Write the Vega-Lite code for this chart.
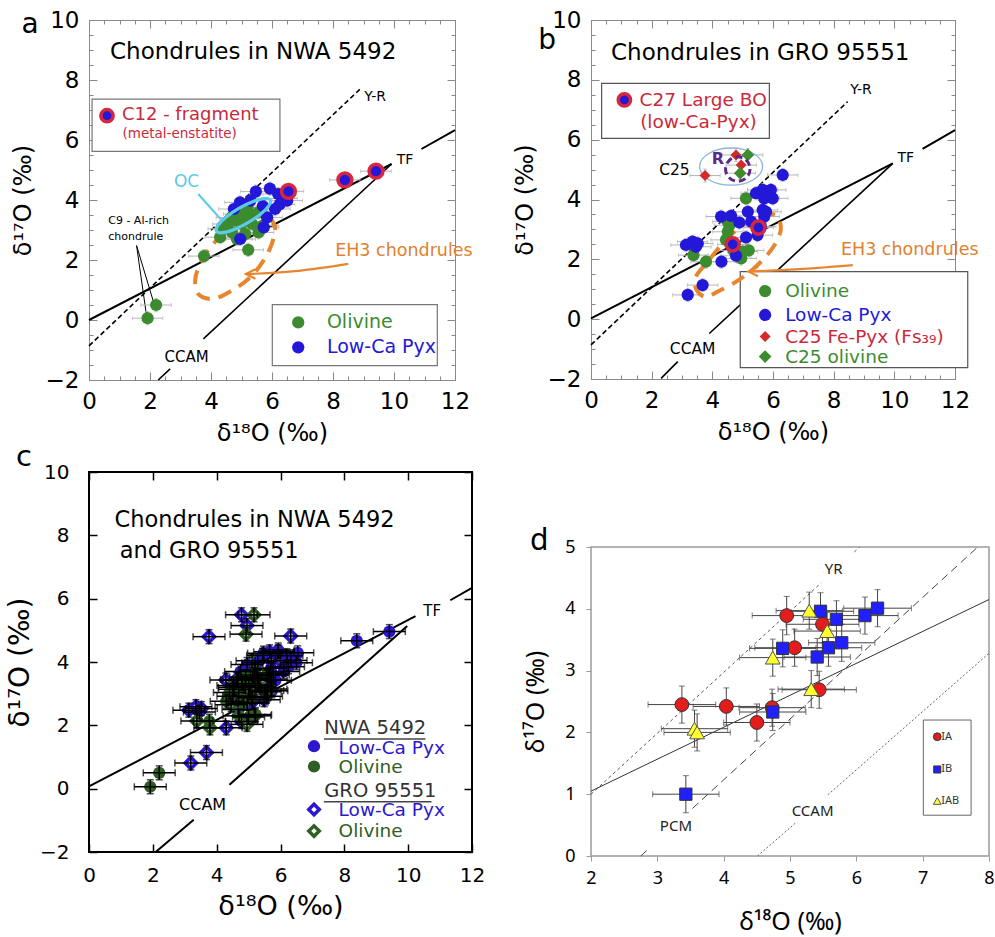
{
"$schema": "https://vega.github.io/schema/vega-lite/v6.json",
"padding": {"left": 5, "top": 8, "right": 0, "bottom": 0},
"background": "white",
"config": {"font": "DejaVu Sans", "axis": {"grid": false, "labelFlush": false, "labelOverlap": false, "titleFontWeight": "normal", "labelColor": "#000", "titleColor": "#000"}, "view": {"stroke": null}},
"datasets": {
"nwa": [
{"d18":1.92,"d17":0.06,"ph":"ol","e18":0.5,"e17":0.22},{"d18":2.20,"d17":0.50,"ph":"ol","e18":0.5,"e17":0.22},{"d18":3.77,"d17":2.13,"ph":"ol","e18":0.5,"e17":0.22},{"d18":5.22,"d17":2.34,"ph":"ol","e18":0.5,"e17":0.22},{"d18":4.30,"d17":2.76,"ph":"ol","e18":0.5,"e17":0.22},{"d18":4.40,"d17":3.04,"ph":"ol","e18":0.5,"e17":0.22},{"d18":4.67,"d17":3.42,"ph":"ol","e18":0.5,"e17":0.22},{"d18":4.80,"d17":3.31,"ph":"ol","e18":0.5,"e17":0.22},{"d18":5.13,"d17":3.48,"ph":"ol","e18":0.5,"e17":0.22},{"d18":4.69,"d17":2.92,"ph":"ol","e18":0.5,"e17":0.22},{"d18":5.12,"d17":2.87,"ph":"ol","e18":0.5,"e17":0.22},{"d18":5.56,"d17":2.92,"ph":"ol","e18":0.5,"e17":0.22},{"d18":5.29,"d17":3.53,"ph":"ol","e18":0.5,"e17":0.22},{"d18":5.56,"d17":3.59,"ph":"ol","e18":0.5,"e17":0.22},{"d18":4.91,"d17":3.53,"ph":"ol","e18":0.5,"e17":0.22},{"d18":5.00,"d17":3.20,"ph":"ol","e18":0.5,"e17":0.22},{"d18":5.35,"d17":3.20,"ph":"ol","e18":0.5,"e17":0.22},{"d18":4.85,"d17":2.70,"ph":"ol","e18":0.5,"e17":0.22},{"d18":5.70,"d17":3.15,"ph":"ol","e18":0.5,"e17":0.22},{"d18":4.55,"d17":3.20,"ph":"ol","e18":0.5,"e17":0.22},{"d18":5.20,"d17":3.75,"ph":"ol","e18":0.5,"e17":0.22},
{"d18":4.95,"d17":3.92,"ph":"px","e18":0.5,"e17":0.22},{"d18":5.47,"d17":4.28,"ph":"px","e18":0.5,"e17":0.22},{"d18":5.93,"d17":4.38,"ph":"px","e18":0.5,"e17":0.22},{"d18":6.33,"d17":4.05,"ph":"px","e18":0.5,"e17":0.22},{"d18":6.50,"d17":3.98,"ph":"px","e18":0.5,"e17":0.22},{"d18":6.20,"d17":4.20,"ph":"px","e18":0.5,"e17":0.22},{"d18":5.29,"d17":3.98,"ph":"px","e18":0.5,"e17":0.22},{"d18":5.84,"d17":3.42,"ph":"px","e18":0.5,"e17":0.22},{"d18":5.73,"d17":3.09,"ph":"px","e18":0.5,"e17":0.22},{"d18":4.96,"d17":2.70,"ph":"px","e18":0.5,"e17":0.22},{"d18":6.10,"d17":3.70,"ph":"px","e18":0.5,"e17":0.22},{"d18":6.25,"d17":3.85,"ph":"px","e18":0.5,"e17":0.22},{"d18":5.70,"d17":3.80,"ph":"px","e18":0.5,"e17":0.22},{"d18":4.75,"d17":3.70,"ph":"px","e18":0.5,"e17":0.22},
{"d18":6.54,"d17":4.29,"ph":"c12","e18":0.5,"e17":0.22},{"d18":8.39,"d17":4.67,"ph":"c12","e18":0.5,"e17":0.22},{"d18":9.41,"d17":4.96,"ph":"c12","e18":0.5,"e17":0.22}
],
"gro": [
{"d18":3.19,"d17":0.81,"ph":"px","e18":0.5,"e17":0.22},{"d18":3.68,"d17":1.14,"ph":"px","e18":0.5,"e17":0.22},{"d18":3.35,"d17":2.59,"ph":"px","e18":0.5,"e17":0.22},{"d18":3.46,"d17":2.42,"ph":"px","e18":0.5,"e17":0.22},{"d18":3.13,"d17":2.48,"ph":"px","e18":0.5,"e17":0.22},{"d18":3.52,"d17":2.53,"ph":"px","e18":0.5,"e17":0.22},{"d18":4.30,"d17":1.92,"ph":"px","e18":0.5,"e17":0.22},{"d18":4.78,"d17":2.12,"ph":"px","e18":0.5,"e17":0.22},{"d18":5.11,"d17":2.73,"ph":"px","e18":0.5,"e17":0.22},{"d18":4.29,"d17":3.43,"ph":"px","e18":0.5,"e17":0.22},{"d18":4.62,"d17":3.45,"ph":"px","e18":0.5,"e17":0.22},{"d18":4.89,"d17":3.23,"ph":"px","e18":0.5,"e17":0.22},{"d18":5.28,"d17":3.26,"ph":"px","e18":0.5,"e17":0.22},{"d18":5.17,"d17":3.59,"ph":"px","e18":0.5,"e17":0.22},{"d18":5.66,"d17":3.65,"ph":"px","e18":0.5,"e17":0.22},{"d18":5.71,"d17":3.43,"ph":"px","e18":0.5,"e17":0.22},{"d18":5.77,"d17":3.59,"ph":"px","e18":0.5,"e17":0.22},{"d18":5.44,"d17":4.21,"ph":"px","e18":0.5,"e17":0.22},{"d18":5.66,"d17":4.32,"ph":"px","e18":0.5,"e17":0.22},{"d18":5.93,"d17":4.32,"ph":"px","e18":0.5,"e17":0.22},{"d18":5.71,"d17":4.04,"ph":"px","e18":0.5,"e17":0.22},{"d18":5.99,"d17":4.04,"ph":"px","e18":0.5,"e17":0.22},{"d18":6.32,"d17":4.82,"ph":"px","e18":0.5,"e17":0.22},{"d18":5.49,"d17":2.81,"ph":"px","e18":0.5,"e17":0.22},{"d18":5.60,"d17":3.10,"ph":"px","e18":0.5,"e17":0.22},
{"d18":3.79,"d17":1.92,"ph":"ol","e18":0.5,"e17":0.22},{"d18":3.38,"d17":2.14,"ph":"ol","e18":0.5,"e17":0.22},{"d18":4.51,"d17":3.26,"ph":"ol","e18":0.5,"e17":0.22},{"d18":4.51,"d17":2.92,"ph":"ol","e18":0.5,"e17":0.22},{"d18":4.45,"d17":2.65,"ph":"ol","e18":0.5,"e17":0.22},{"d18":5.00,"d17":2.26,"ph":"ol","e18":0.5,"e17":0.22},{"d18":4.95,"d17":2.03,"ph":"ol","e18":0.5,"e17":0.22},{"d18":5.11,"d17":4.04,"ph":"ol","e18":0.5,"e17":0.22},{"d18":4.56,"d17":3.14,"ph":"ol","e18":0.5,"e17":0.22},{"d18":4.70,"d17":2.30,"ph":"ol","e18":0.5,"e17":0.22},{"d18":5.20,"d17":2.30,"ph":"ol","e18":0.5,"e17":0.22},
{"d18":4.67,"d17":2.50,"ph":"c27","e18":0.5,"e17":0.22},{"d18":5.52,"d17":3.06,"ph":"c27","e18":0.5,"e17":0.22},
{"d18":3.76,"d17":4.80,"ph":"fepx","e18":0.5,"e17":0.22},{"d18":4.78,"d17":5.49,"ph":"fepx","e18":0.5,"e17":0.22},{"d18":4.95,"d17":5.15,"ph":"fepx","e18":0.5,"e17":0.22},
{"d18":5.17,"d17":5.49,"ph":"c25ol","e18":0.5,"e17":0.22},{"d18":4.92,"d17":4.88,"ph":"c25ol","e18":0.5,"e17":0.22}
],
"ib": [
{"d18":3.37,"d17":2.45,"g":"IA","e18":0.51,"e17":0.3},{"d18":4.04,"d17":2.42,"g":"IA","e18":0.5,"e17":0.3},{"d18":4.50,"d17":2.16,"g":"IA","e18":0.5,"e17":0.3},{"d18":4.73,"d17":2.40,"g":"IA","e18":0.5,"e17":0.3},{"d18":4.95,"d17":3.89,"g":"IA","e18":0.52,"e17":0.31},{"d18":5.07,"d17":3.37,"g":"IA","e18":0.6,"e17":0.3},{"d18":5.49,"d17":3.75,"g":"IA","e18":0.55,"e17":0.3},{"d18":5.44,"d17":2.69,"g":"IA","e18":0.56,"e17":0.3},
{"d18":3.43,"d17":1.00,"g":"IB","e18":0.5,"e17":0.3},{"d18":4.74,"d17":2.33,"g":"IB","e18":0.5,"e17":0.3},{"d18":4.89,"d17":3.36,"g":"IB","e18":0.5,"e17":0.3},{"d18":5.41,"d17":3.22,"g":"IB","e18":0.5,"e17":0.3},{"d18":5.46,"d17":3.96,"g":"IB","e18":0.5,"e17":0.3},{"d18":5.70,"d17":3.83,"g":"IB","e18":0.5,"e17":0.3},{"d18":5.58,"d17":3.37,"g":"IB","e18":0.5,"e17":0.3},{"d18":5.78,"d17":3.45,"g":"IB","e18":0.5,"e17":0.3},{"d18":6.13,"d17":3.89,"g":"IB","e18":0.5,"e17":0.3},{"d18":6.32,"d17":4.01,"g":"IB","e18":0.51,"e17":0.3},
{"d18":3.56,"d17":2.06,"g":"IAB","e18":0.5,"e17":0.3},{"d18":3.60,"d17":2.00,"g":"IAB","e18":0.5,"e17":0.3},{"d18":4.74,"d17":3.21,"g":"IAB","e18":0.5,"e17":0.3},{"d18":5.29,"d17":3.97,"g":"IAB","e18":0.5,"e17":0.3},{"d18":5.56,"d17":3.64,"g":"IAB","e18":0.5,"e17":0.3},{"d18":5.32,"d17":2.70,"g":"IAB","e18":0.5,"e17":0.3}
]
},
"spacing": 26,
"hconcat": [
{"spacing": -4, "vconcat": [
{"width": 366, "height": 360, "view": {"stroke": "#8a8a8a", "strokeWidth": 1},
 "resolve": {"axis": {"x": "independent", "y": "independent"}},
 "layer": [
  {"data": {"values": [{"x": 0, "y": 0}]}, "mark": {"type": "point", "opacity": 0},
   "encoding": {"x": {"field": "x", "type": "quantitative", "scale": {"domain": [0, 12], "nice": false, "zero": false}, "axis": {"orient": "bottom", "values": [0, 2, 4, 6, 8, 10, 12], "tickSize": -8, "tickColor": "#888", "domain": false, "labelFontSize": 23, "labelPadding": 18, "title": "δ¹⁸O (‰)", "titleFontSize": 24, "titlePadding": 8}},
    "y": {"field": "y", "type": "quantitative", "scale": {"domain": [-2, 10], "nice": false, "zero": false}, "axis": {"orient": "left", "values": [-2, 0, 2, 4, 6, 8, 10], "tickSize": -8, "tickColor": "#888", "domain": false, "labelFontSize": 23, "labelPadding": 18, "title": "δ¹⁷O (‰)", "titleFontSize": 24, "titlePadding": 10}}}},
  {"data": {"values": [{"x": 0, "y": 0}]}, "mark": {"type": "point", "opacity": 0},
   "encoding": {"x": {"field": "x", "type": "quantitative", "scale": {"domain": [0, 12], "nice": false, "zero": false}, "axis": {"orient": "bottom", "values": [0.5,1,1.5,2.5,3,3.5,4.5,5,5.5,6.5,7,7.5,8.5,9,9.5,10.5,11,11.5], "tickSize": -4, "tickColor": "#888", "domain": false, "labels": false, "title": null}},
    "y": {"field": "y", "type": "quantitative", "scale": {"domain": [-2, 10], "nice": false, "zero": false}, "axis": {"orient": "left", "values": [-1.5,-1,-0.5,0.5,1,1.5,2.5,3,3.5,4.5,5,5.5,6.5,7,7.5,8.5,9,9.5], "tickSize": -4, "tickColor": "#888", "domain": false, "labels": false, "title": null}}}},
  {"data": {"values": [{"x": 0, "y": 0}]}, "mark": {"type": "point", "opacity": 0},
   "encoding": {"x": {"field": "x", "type": "quantitative", "scale": {"domain": [0, 12], "nice": false, "zero": false}, "axis": {"orient": "top", "values": [0, 2, 4, 6, 8, 10, 12], "tickSize": -8, "tickColor": "#888", "domain": false, "labels": false, "title": null}},
    "y": {"field": "y", "type": "quantitative", "scale": {"domain": [-2, 10], "nice": false, "zero": false}, "axis": {"orient": "right", "values": [-2, 0, 2, 4, 6, 8, 10], "tickSize": -8, "tickColor": "#888", "domain": false, "labels": false, "title": null}}}},
  {"data": {"values": [{"x": 0, "y": 0}]}, "mark": {"type": "point", "opacity": 0},
   "encoding": {"x": {"field": "x", "type": "quantitative", "scale": {"domain": [0, 12], "nice": false, "zero": false}, "axis": {"orient": "top", "values": [0.5,1,1.5,2.5,3,3.5,4.5,5,5.5,6.5,7,7.5,8.5,9,9.5,10.5,11,11.5], "tickSize": -4, "tickColor": "#888", "domain": false, "labels": false, "title": null}},
    "y": {"field": "y", "type": "quantitative", "scale": {"domain": [-2, 10], "nice": false, "zero": false}, "axis": {"orient": "right", "values": [-1.5,-1,-0.5,0.5,1,1.5,2.5,3,3.5,4.5,5,5.5,6.5,7,7.5,8.5,9,9.5], "tickSize": -4, "tickColor": "#888", "domain": false, "labels": false, "title": null}}}},
  {"data": {"values": [{"x": 0, "y": 0, "x2": 9.92, "y2": 5.2}, {"x": 10.9, "y": 5.7, "x2": 12, "y2": 6.33}]}, "mark": {"type": "rule", "color": "#000", "strokeWidth": 2},
   "encoding": {"x": {"field": "x", "type": "quantitative", "scale": {"domain": [0, 12], "nice": false, "zero": false}, "axis": null}, "y": {"field": "y", "type": "quantitative", "scale": {"domain": [-2, 10], "nice": false, "zero": false}, "axis": null}, "x2": {"field": "x2"}, "y2": {"field": "y2"}}},
  {"data": {"values": [{"x": 2.27, "y": -2.0, "x2": 2.66, "y2": -1.63}, {"x": 3.75, "y": -0.63, "x2": 9.92, "y2": 5.2}]}, "mark": {"type": "rule", "color": "#000", "strokeWidth": 1.6},
   "encoding": {"x": {"field": "x", "type": "quantitative", "scale": {"domain": [0, 12], "nice": false, "zero": false}, "axis": null}, "y": {"field": "y", "type": "quantitative", "scale": {"domain": [-2, 10], "nice": false, "zero": false}, "axis": null}, "x2": {"field": "x2"}, "y2": {"field": "y2"}}},
  {"data": {"values": [{"x": 0, "y": -0.86, "x2": 8.89, "y2": 7.7}]}, "mark": {"type": "rule", "color": "#000", "strokeWidth": 1.6, "strokeDash": [5, 3]},
   "encoding": {"x": {"field": "x", "type": "quantitative", "scale": {"domain": [0, 12], "nice": false, "zero": false}, "axis": null}, "y": {"field": "y", "type": "quantitative", "scale": {"domain": [-2, 10], "nice": false, "zero": false}, "axis": null}, "x2": {"field": "x2"}, "y2": {"field": "y2"}}},
  {"data": {"values": [{"x": 1.56, "y": 2.48, "x2": 1.89, "y2": 0.12}, {"x": 1.56, "y": 2.48, "x2": 2.13, "y2": 0.55}]}, "mark": {"type": "rule", "color": "#000", "strokeWidth": 1},
   "encoding": {"x": {"field": "x", "type": "quantitative", "scale": {"domain": [0, 12], "nice": false, "zero": false}, "axis": null}, "y": {"field": "y", "type": "quantitative", "scale": {"domain": [-2, 10], "nice": false, "zero": false}, "axis": null}, "x2": {"field": "x2"}, "y2": {"field": "y2"}}},
  {"data": {"values": [{"x": 3.58, "y": 4.2, "x2": 4.46, "y2": 3.2}]}, "mark": {"type": "rule", "color": "#5ccbe9", "strokeWidth": 2},
   "encoding": {"x": {"field": "x", "type": "quantitative", "scale": {"domain": [0, 12], "nice": false, "zero": false}, "axis": null}, "y": {"field": "y", "type": "quantitative", "scale": {"domain": [-2, 10], "nice": false, "zero": false}, "axis": null}, "x2": {"field": "x2"}, "y2": {"field": "y2"}}},
  {"data": {"values": [{"x": 0.1, "y": 5.62, "x2": 6.26, "y2": 7.36}, {"x": 6.01, "y": -1.52, "x2": 11.42, "y2": 0.51}]}, "mark": {"type": "rect", "fill": "white", "stroke": "#777", "strokeWidth": 1.2},
   "encoding": {"x": {"field": "x", "type": "quantitative", "scale": {"domain": [0, 12], "nice": false, "zero": false}, "axis": null}, "y": {"field": "y", "type": "quantitative", "scale": {"domain": [-2, 10], "nice": false, "zero": false}, "axis": null}, "x2": {"field": "x2"}, "y2": {"field": "y2"}}},
  {"data": {"name": "nwa"}, "mark": {"type": "errorbar", "color": "#b5b5b5", "thickness": 1, "ticks": true, "size": 4},
   "encoding": {"x": {"field": "d18", "type": "quantitative", "scale": {"domain": [0, 12], "nice": false, "zero": false}, "axis": null}, "xError": {"field": "e18"}, "y": {"field": "d17", "type": "quantitative", "scale": {"domain": [-2, 10], "nice": false, "zero": false}, "axis": null}}},
  {"data": {"name": "nwa"}, "mark": {"type": "errorbar", "color": "#b5b5b5", "thickness": 1, "ticks": true, "size": 4},
   "encoding": {"x": {"field": "d18", "type": "quantitative", "scale": {"domain": [0, 12], "nice": false, "zero": false}, "axis": null}, "y": {"field": "d17", "type": "quantitative", "scale": {"domain": [-2, 10], "nice": false, "zero": false}, "axis": null}, "yError": {"field": "e17"}}},
  {"data": {"values": [{"i":0,"x":5.93,"y":3.42},{"i":1,"x":6.10,"y":3.09},{"i":2,"x":5.99,"y":2.53},{"i":3,"x":5.72,"y":1.98},{"i":4,"x":5.28,"y":1.42},{"i":5,"x":4.68,"y":0.98},{"i":6,"x":4.02,"y":0.70},{"i":7,"x":3.58,"y":0.87},{"i":8,"x":3.48,"y":1.31},{"i":9,"x":3.64,"y":1.87},{"i":10,"x":4.02,"y":2.48},{"i":11,"x":4.35,"y":2.81}]},
   "mark": {"type": "line", "color": "#e8852f", "strokeWidth": 4, "strokeDash": [14, 9], "interpolate": "catmull-rom"},
   "encoding": {"x": {"field": "x", "type": "quantitative", "scale": {"domain": [0, 12], "nice": false, "zero": false}, "axis": null}, "y": {"field": "y", "type": "quantitative", "scale": {"domain": [-2, 10], "nice": false, "zero": false}, "axis": null}, "order": {"field": "i"}}},
  {"data": {"values": [{"i":0,"x":8.5,"y":1.87},{"i":1,"x":6.86,"y":1.64},{"i":2,"x":5.17,"y":1.53}]},
   "mark": {"type": "line", "color": "#e8852f", "strokeWidth": 2.2, "interpolate": "monotone"},
   "encoding": {"x": {"field": "x", "type": "quantitative", "scale": {"domain": [0, 12], "nice": false, "zero": false}, "axis": null}, "y": {"field": "y", "type": "quantitative", "scale": {"domain": [-2, 10], "nice": false, "zero": false}, "axis": null}, "order": {"field": "i"}}},
  {"data": {"values": [{"x": 5.3, "y": 1.53}]}, "mark": {"type": "point", "shape": "M 1 -1 L -1 0 L 1 1", "filled": false, "stroke": "#e8852f", "strokeWidth": 2.2, "size": 90, "opacity": 1},
   "encoding": {"x": {"field": "x", "type": "quantitative", "scale": {"domain": [0, 12], "nice": false, "zero": false}, "axis": null}, "y": {"field": "y", "type": "quantitative", "scale": {"domain": [-2, 10], "nice": false, "zero": false}, "axis": null}}},
  {"data": {"name": "nwa"}, "transform": [{"filter": "datum.ph === 'ol'"}], "mark": {"type": "point", "shape": "circle", "filled": true, "color": "#3d8b2f", "size": 150, "opacity": 1},
   "encoding": {"x": {"field": "d18", "type": "quantitative", "scale": {"domain": [0, 12], "nice": false, "zero": false}, "axis": null}, "y": {"field": "d17", "type": "quantitative", "scale": {"domain": [-2, 10], "nice": false, "zero": false}, "axis": null}}},
  {"data": {"name": "nwa"}, "transform": [{"filter": "datum.ph === 'px'"}], "mark": {"type": "point", "shape": "circle", "filled": true, "color": "#2318d8", "size": 150, "opacity": 1},
   "encoding": {"x": {"field": "d18", "type": "quantitative", "scale": {"domain": [0, 12], "nice": false, "zero": false}, "axis": null}, "y": {"field": "d17", "type": "quantitative", "scale": {"domain": [-2, 10], "nice": false, "zero": false}, "axis": null}}},
  {"data": {"values": [{"x": 5.06, "y": 3.48}]}, "mark": {"type": "point", "shape": "M -0.866 0.5 A 1 0.27 -30 1 0 0.866 -0.5 A 1 0.27 -30 1 0 -0.866 0.5 Z", "filled": false, "stroke": "#5ccbe9", "strokeWidth": 3.2, "size": 3844, "opacity": 1},
   "encoding": {"x": {"field": "x", "type": "quantitative", "scale": {"domain": [0, 12], "nice": false, "zero": false}, "axis": null}, "y": {"field": "y", "type": "quantitative", "scale": {"domain": [-2, 10], "nice": false, "zero": false}, "axis": null}}},
  {"data": {"name": "nwa"}, "transform": [{"filter": "datum.ph === 'c12'"}], "mark": {"type": "point", "shape": "circle", "filled": true, "fill": "#2318d8", "stroke": "#d7263d", "strokeWidth": 3.5, "size": 190, "opacity": 1},
   "encoding": {"x": {"field": "d18", "type": "quantitative", "scale": {"domain": [0, 12], "nice": false, "zero": false}, "axis": null}, "y": {"field": "d17", "type": "quantitative", "scale": {"domain": [-2, 10], "nice": false, "zero": false}, "axis": null}}},
  {"data": {"values": [{"x": 0.59, "y": 6.81}]}, "mark": {"type": "point", "shape": "circle", "filled": true, "fill": "#2318d8", "stroke": "#d7263d", "strokeWidth": 3.5, "size": 150, "opacity": 1},
   "encoding": {"x": {"field": "x", "type": "quantitative", "scale": {"domain": [0, 12], "nice": false, "zero": false}, "axis": null}, "y": {"field": "y", "type": "quantitative", "scale": {"domain": [-2, 10], "nice": false, "zero": false}, "axis": null}}},
  {"data": {"values": [{"x": 6.86, "y": -0.08}]}, "mark": {"type": "point", "shape": "circle", "filled": true, "color": "#3d8b2f", "size": 150, "opacity": 1},
   "encoding": {"x": {"field": "x", "type": "quantitative", "scale": {"domain": [0, 12], "nice": false, "zero": false}, "axis": null}, "y": {"field": "y", "type": "quantitative", "scale": {"domain": [-2, 10], "nice": false, "zero": false}, "axis": null}}},
  {"data": {"values": [{"x": 6.86, "y": -0.91}]}, "mark": {"type": "point", "shape": "circle", "filled": true, "color": "#2318d8", "size": 150, "opacity": 1},
   "encoding": {"x": {"field": "x", "type": "quantitative", "scale": {"domain": [0, 12], "nice": false, "zero": false}, "axis": null}, "y": {"field": "y", "type": "quantitative", "scale": {"domain": [-2, 10], "nice": false, "zero": false}, "axis": null}}},
  {"data": {"values": [{"x": 0.69, "y": 8.95, "t": "Chondrules in NWA 5492"}]}, "mark": {"type": "text", "align": "left", "baseline": "middle", "fontSize": 23, "color": "#000"},
   "encoding": {"x": {"field": "x", "type": "quantitative", "scale": {"domain": [0, 12], "nice": false, "zero": false}, "axis": null}, "y": {"field": "y", "type": "quantitative", "scale": {"domain": [-2, 10], "nice": false, "zero": false}, "axis": null}, "text": {"field": "t"}}},
  {"data": {"values": [{"x": 9.38, "y": 7.42, "t": "Y-R"}, {"x": 10.36, "y": 5.34, "t": "TF"}]}, "mark": {"type": "text", "align": "center", "baseline": "middle", "fontSize": 14, "color": "#000"},
   "encoding": {"x": {"field": "x", "type": "quantitative", "scale": {"domain": [0, 12], "nice": false, "zero": false}, "axis": null}, "y": {"field": "y", "type": "quantitative", "scale": {"domain": [-2, 10], "nice": false, "zero": false}, "axis": null}, "text": {"field": "t"}}},
  {"data": {"values": [{"x": 3.2, "y": -1.22, "t": "CCAM"}]}, "mark": {"type": "text", "align": "center", "baseline": "middle", "fontSize": 15, "color": "#000"},
   "encoding": {"x": {"field": "x", "type": "quantitative", "scale": {"domain": [0, 12], "nice": false, "zero": false}, "axis": null}, "y": {"field": "y", "type": "quantitative", "scale": {"domain": [-2, 10], "nice": false, "zero": false}, "axis": null}, "text": {"field": "t"}}},
  {"data": {"values": [{"x": 0.63, "y": 3.31, "t": "C9 - Al-rich"}, {"x": 0.63, "y": 2.76, "t": "chondrule"}]}, "mark": {"type": "text", "align": "left", "baseline": "middle", "fontSize": 11, "color": "#000"},
   "encoding": {"x": {"field": "x", "type": "quantitative", "scale": {"domain": [0, 12], "nice": false, "zero": false}, "axis": null}, "y": {"field": "y", "type": "quantitative", "scale": {"domain": [-2, 10], "nice": false, "zero": false}, "axis": null}, "text": {"field": "t"}}},
  {"data": {"values": [{"x": 3.2, "y": 4.6, "t": "OC"}]}, "mark": {"type": "text", "align": "center", "baseline": "middle", "fontSize": 17, "color": "#5ccbe9"},
   "encoding": {"x": {"field": "x", "type": "quantitative", "scale": {"domain": [0, 12], "nice": false, "zero": false}, "axis": null}, "y": {"field": "y", "type": "quantitative", "scale": {"domain": [-2, 10], "nice": false, "zero": false}, "axis": null}, "text": {"field": "t"}}},
  {"data": {"values": [{"x": 8.07, "y": 2.31, "t": "EH3 chondrules"}]}, "mark": {"type": "text", "align": "left", "baseline": "middle", "fontSize": 17.5, "color": "#e0812f"},
   "encoding": {"x": {"field": "x", "type": "quantitative", "scale": {"domain": [0, 12], "nice": false, "zero": false}, "axis": null}, "y": {"field": "y", "type": "quantitative", "scale": {"domain": [-2, 10], "nice": false, "zero": false}, "axis": null}, "text": {"field": "t"}}},
  {"data": {"values": [{"x": 1.08, "y": 6.82, "t": "C12 - fragment"}]}, "mark": {"type": "text", "align": "left", "baseline": "middle", "fontSize": 18, "color": "#c92a3a"},
   "encoding": {"x": {"field": "x", "type": "quantitative", "scale": {"domain": [0, 12], "nice": false, "zero": false}, "axis": null}, "y": {"field": "y", "type": "quantitative", "scale": {"domain": [-2, 10], "nice": false, "zero": false}, "axis": null}, "text": {"field": "t"}}},
  {"data": {"values": [{"x": 1.1, "y": 6.19, "t": "(metal-enstatite)"}]}, "mark": {"type": "text", "align": "left", "baseline": "middle", "fontSize": 13.5, "color": "#c92a3a"},
   "encoding": {"x": {"field": "x", "type": "quantitative", "scale": {"domain": [0, 12], "nice": false, "zero": false}, "axis": null}, "y": {"field": "y", "type": "quantitative", "scale": {"domain": [-2, 10], "nice": false, "zero": false}, "axis": null}, "text": {"field": "t"}}},
  {"data": {"values": [{"x": 7.8, "y": -0.08, "t": "Olivine"}]}, "mark": {"type": "text", "align": "left", "baseline": "middle", "fontSize": 19, "color": "#3d8b2f"},
   "encoding": {"x": {"field": "x", "type": "quantitative", "scale": {"domain": [0, 12], "nice": false, "zero": false}, "axis": null}, "y": {"field": "y", "type": "quantitative", "scale": {"domain": [-2, 10], "nice": false, "zero": false}, "axis": null}, "text": {"field": "t"}}},
  {"data": {"values": [{"x": 7.8, "y": -0.91, "t": "Low-Ca Pyx"}]}, "mark": {"type": "text", "align": "left", "baseline": "middle", "fontSize": 19, "color": "#2318d8"},
   "encoding": {"x": {"field": "x", "type": "quantitative", "scale": {"domain": [0, 12], "nice": false, "zero": false}, "axis": null}, "y": {"field": "y", "type": "quantitative", "scale": {"domain": [-2, 10], "nice": false, "zero": false}, "axis": null}, "text": {"field": "t"}}},
  {"data": {"values": [{"x": -1.93, "y": 9.82, "t": "a"}]}, "mark": {"type": "text", "align": "center", "baseline": "middle", "fontSize": 28, "color": "#000"},
   "encoding": {"x": {"field": "x", "type": "quantitative", "scale": {"domain": [0, 12], "nice": false, "zero": false}, "axis": null}, "y": {"field": "y", "type": "quantitative", "scale": {"domain": [-2, 10], "nice": false, "zero": false}, "axis": null}, "text": {"field": "t"}}}
 ]},
{"width": 383, "height": 380, "view": {"stroke": "#000", "strokeWidth": 2},
 "resolve": {"axis": {"x": "independent", "y": "independent"}},
 "layer": [
  {"data": {"values": [{"x": 0, "y": 0}]}, "mark": {"type": "point", "opacity": 0},
   "encoding": {"x": {"field": "x", "type": "quantitative", "scale": {"domain": [0, 12], "nice": false, "zero": false}, "axis": {"orient": "bottom", "values": [0, 2, 4, 6, 8, 10, 12], "tickSize": -8, "tickWidth": 1.5, "tickColor": "#000", "domain": false, "labelFontSize": 20, "labelPadding": 21, "title": "δ¹⁸O (‰)", "titleFontSize": 27, "titlePadding": 8}},
    "y": {"field": "y", "type": "quantitative", "scale": {"domain": [-2, 10], "nice": false, "zero": false}, "axis": {"orient": "left", "values": [-2, 0, 2, 4, 6, 8, 10], "tickSize": -8, "tickWidth": 1.5, "tickColor": "#000", "domain": false, "labelFontSize": 20, "labelPadding": 28, "title": "δ¹⁷O (‰)", "titleFontSize": 28, "titlePadding": 5}}}},
  {"data": {"values": [{"x": 0, "y": 0}]}, "mark": {"type": "point", "opacity": 0},
   "encoding": {"x": {"field": "x", "type": "quantitative", "scale": {"domain": [0, 12], "nice": false, "zero": false}, "axis": {"orient": "top", "values": [0, 2, 4, 6, 8, 10, 12], "tickSize": -8, "tickWidth": 1.5, "tickColor": "#000", "domain": false, "labels": false, "title": null}},
    "y": {"field": "y", "type": "quantitative", "scale": {"domain": [-2, 10], "nice": false, "zero": false}, "axis": {"orient": "right", "values": [-2, 0, 2, 4, 6, 8, 10], "tickSize": -8, "tickWidth": 1.5, "tickColor": "#000", "domain": false, "labels": false, "title": null}}}},
  {"data": {"values": [{"x": 0, "y": 0.07, "x2": 10.23, "y2": 5.45}, {"x": 11.32, "y": 5.95, "x2": 12, "y2": 6.34}, {"x": 2.09, "y": -2.0, "x2": 3.28, "y2": -0.98}, {"x": 4.40, "y": 0.12, "x2": 9.97, "y2": 5.14}]}, "mark": {"type": "rule", "color": "#000", "strokeWidth": 2},
   "encoding": {"x": {"field": "x", "type": "quantitative", "scale": {"domain": [0, 12], "nice": false, "zero": false}, "axis": null}, "y": {"field": "y", "type": "quantitative", "scale": {"domain": [-2, 10], "nice": false, "zero": false}, "axis": null}, "x2": {"field": "x2"}, "y2": {"field": "y2"}}},
  {"data": {"values": [{"x": 7.36, "y": 1.57, "x2": 10.54}, {"x": 7.36, "y": -0.41, "x2": 10.73}]}, "mark": {"type": "rule", "color": "#444", "strokeWidth": 1.5},
   "encoding": {"x": {"field": "x", "type": "quantitative", "scale": {"domain": [0, 12], "nice": false, "zero": false}, "axis": null}, "y": {"field": "y", "type": "quantitative", "scale": {"domain": [-2, 10], "nice": false, "zero": false}, "axis": null}, "x2": {"field": "x2"}}},
  {"data": {"name": "gro"}, "transform": [{"filter": "datum.ph === 'px' || datum.ph === 'c27' || datum.ph === 'fepx'"}], "mark": {"type": "point", "shape": "diamond", "filled": true, "fill": "#c9c6f0", "stroke": "#2c16d0", "strokeWidth": 3.5, "size": 130, "opacity": 1},
   "encoding": {"x": {"field": "d18", "type": "quantitative", "scale": {"domain": [0, 12], "nice": false, "zero": false}, "axis": null}, "y": {"field": "d17", "type": "quantitative", "scale": {"domain": [-2, 10], "nice": false, "zero": false}, "axis": null}}},
  {"data": {"name": "gro"}, "transform": [{"filter": "datum.ph === 'ol' || datum.ph === 'c25ol'"}], "mark": {"type": "point", "shape": "diamond", "filled": true, "fill": "#c7d6c0", "stroke": "#2f5f23", "strokeWidth": 3.5, "size": 130, "opacity": 1},
   "encoding": {"x": {"field": "d18", "type": "quantitative", "scale": {"domain": [0, 12], "nice": false, "zero": false}, "axis": null}, "y": {"field": "d17", "type": "quantitative", "scale": {"domain": [-2, 10], "nice": false, "zero": false}, "axis": null}}},
  {"data": {"name": "nwa"}, "transform": [{"filter": "datum.ph === 'px' || datum.ph === 'c12'"}], "mark": {"type": "point", "shape": "circle", "filled": true, "color": "#2c16d0", "size": 150, "opacity": 1},
   "encoding": {"x": {"field": "d18", "type": "quantitative", "scale": {"domain": [0, 12], "nice": false, "zero": false}, "axis": null}, "y": {"field": "d17", "type": "quantitative", "scale": {"domain": [-2, 10], "nice": false, "zero": false}, "axis": null}}},
  {"data": {"name": "nwa"}, "transform": [{"filter": "datum.ph === 'ol'"}], "mark": {"type": "point", "shape": "circle", "filled": true, "color": "#2f5f23", "size": 150, "opacity": 1},
   "encoding": {"x": {"field": "d18", "type": "quantitative", "scale": {"domain": [0, 12], "nice": false, "zero": false}, "axis": null}, "y": {"field": "d17", "type": "quantitative", "scale": {"domain": [-2, 10], "nice": false, "zero": false}, "axis": null}}},
  {"data": {"name": "nwa"}, "mark": {"type": "errorbar", "color": "#000", "thickness": 1.5, "ticks": true, "size": 7},
   "encoding": {"x": {"field": "d18", "type": "quantitative", "scale": {"domain": [0, 12], "nice": false, "zero": false}, "axis": null}, "xError": {"field": "e18"}, "y": {"field": "d17", "type": "quantitative", "scale": {"domain": [-2, 10], "nice": false, "zero": false}, "axis": null}}},
  {"data": {"name": "nwa"}, "mark": {"type": "errorbar", "color": "#000", "thickness": 1.5, "ticks": true, "size": 7},
   "encoding": {"x": {"field": "d18", "type": "quantitative", "scale": {"domain": [0, 12], "nice": false, "zero": false}, "axis": null}, "y": {"field": "d17", "type": "quantitative", "scale": {"domain": [-2, 10], "nice": false, "zero": false}, "axis": null}, "yError": {"field": "e17"}}},
  {"data": {"name": "gro"}, "mark": {"type": "errorbar", "color": "#000", "thickness": 1.5, "ticks": true, "size": 7},
   "encoding": {"x": {"field": "d18", "type": "quantitative", "scale": {"domain": [0, 12], "nice": false, "zero": false}, "axis": null}, "xError": {"field": "e18"}, "y": {"field": "d17", "type": "quantitative", "scale": {"domain": [-2, 10], "nice": false, "zero": false}, "axis": null}}},
  {"data": {"name": "gro"}, "mark": {"type": "errorbar", "color": "#000", "thickness": 1.5, "ticks": true, "size": 7},
   "encoding": {"x": {"field": "d18", "type": "quantitative", "scale": {"domain": [0, 12], "nice": false, "zero": false}, "axis": null}, "y": {"field": "d17", "type": "quantitative", "scale": {"domain": [-2, 10], "nice": false, "zero": false}, "axis": null}, "yError": {"field": "e17"}}},
  {"data": {"values": [{"x": 7.05, "y": 1.34}]}, "mark": {"type": "point", "shape": "circle", "filled": true, "color": "#2c16d0", "size": 150, "opacity": 1},
   "encoding": {"x": {"field": "x", "type": "quantitative", "scale": {"domain": [0, 12], "nice": false, "zero": false}, "axis": null}, "y": {"field": "y", "type": "quantitative", "scale": {"domain": [-2, 10], "nice": false, "zero": false}, "axis": null}}},
  {"data": {"values": [{"x": 7.05, "y": 0.70}]}, "mark": {"type": "point", "shape": "circle", "filled": true, "color": "#2f5f23", "size": 150, "opacity": 1},
   "encoding": {"x": {"field": "x", "type": "quantitative", "scale": {"domain": [0, 12], "nice": false, "zero": false}, "axis": null}, "y": {"field": "y", "type": "quantitative", "scale": {"domain": [-2, 10], "nice": false, "zero": false}, "axis": null}}},
  {"data": {"values": [{"x": 7.05, "y": -0.66}]}, "mark": {"type": "point", "shape": "diamond", "filled": true, "fill": "white", "stroke": "#2c16d0", "strokeWidth": 3.5, "size": 110, "opacity": 1},
   "encoding": {"x": {"field": "x", "type": "quantitative", "scale": {"domain": [0, 12], "nice": false, "zero": false}, "axis": null}, "y": {"field": "y", "type": "quantitative", "scale": {"domain": [-2, 10], "nice": false, "zero": false}, "axis": null}}},
  {"data": {"values": [{"x": 7.05, "y": -1.34}]}, "mark": {"type": "point", "shape": "diamond", "filled": true, "fill": "white", "stroke": "#2f5f23", "strokeWidth": 3.5, "size": 110, "opacity": 1},
   "encoding": {"x": {"field": "x", "type": "quantitative", "scale": {"domain": [0, 12], "nice": false, "zero": false}, "axis": null}, "y": {"field": "y", "type": "quantitative", "scale": {"domain": [-2, 10], "nice": false, "zero": false}, "axis": null}}},
  {"data": {"values": [{"x": 0.80, "y": 8.48, "t": "Chondrules in NWA 5492"}, {"x": 0.96, "y": 7.49, "t": "and GRO 95551"}]}, "mark": {"type": "text", "align": "left", "baseline": "middle", "fontSize": 22.5, "color": "#000"},
   "encoding": {"x": {"field": "x", "type": "quantitative", "scale": {"domain": [0, 12], "nice": false, "zero": false}, "axis": null}, "y": {"field": "y", "type": "quantitative", "scale": {"domain": [-2, 10], "nice": false, "zero": false}, "axis": null}, "text": {"field": "t"}}},
  {"data": {"values": [{"x": 10.75, "y": 5.6, "t": "TF"}]}, "mark": {"type": "text", "align": "center", "baseline": "middle", "fontSize": 15, "color": "#000"},
   "encoding": {"x": {"field": "x", "type": "quantitative", "scale": {"domain": [0, 12], "nice": false, "zero": false}, "axis": null}, "y": {"field": "y", "type": "quantitative", "scale": {"domain": [-2, 10], "nice": false, "zero": false}, "axis": null}, "text": {"field": "t"}}},
  {"data": {"values": [{"x": 3.56, "y": -0.5, "t": "CCAM"}]}, "mark": {"type": "text", "align": "center", "baseline": "middle", "fontSize": 16, "color": "#000"},
   "encoding": {"x": {"field": "x", "type": "quantitative", "scale": {"domain": [0, 12], "nice": false, "zero": false}, "axis": null}, "y": {"field": "y", "type": "quantitative", "scale": {"domain": [-2, 10], "nice": false, "zero": false}, "axis": null}, "text": {"field": "t"}}},
  {"data": {"values": [{"x": 7.37, "y": 1.92, "t": "NWA 5492"}, {"x": 7.37, "y": -0.07, "t": "GRO 95551"}]}, "mark": {"type": "text", "align": "left", "baseline": "middle", "fontSize": 19.5, "color": "#333"},
   "encoding": {"x": {"field": "x", "type": "quantitative", "scale": {"domain": [0, 12], "nice": false, "zero": false}, "axis": null}, "y": {"field": "y", "type": "quantitative", "scale": {"domain": [-2, 10], "nice": false, "zero": false}, "axis": null}, "text": {"field": "t"}}},
  {"data": {"values": [{"x": 7.82, "y": 1.30, "t": "Low-Ca Pyx"}, {"x": 7.82, "y": -0.68, "t": "Low-Ca Pyx"}]}, "mark": {"type": "text", "align": "left", "baseline": "middle", "fontSize": 18.5, "color": "#2c16d0"},
   "encoding": {"x": {"field": "x", "type": "quantitative", "scale": {"domain": [0, 12], "nice": false, "zero": false}, "axis": null}, "y": {"field": "y", "type": "quantitative", "scale": {"domain": [-2, 10], "nice": false, "zero": false}, "axis": null}, "text": {"field": "t"}}},
  {"data": {"values": [{"x": 7.82, "y": 0.70, "t": "Olivine"}, {"x": 7.82, "y": -1.34, "t": "Olivine"}]}, "mark": {"type": "text", "align": "left", "baseline": "middle", "fontSize": 18.5, "color": "#2f5f23"},
   "encoding": {"x": {"field": "x", "type": "quantitative", "scale": {"domain": [0, 12], "nice": false, "zero": false}, "axis": null}, "y": {"field": "y", "type": "quantitative", "scale": {"domain": [-2, 10], "nice": false, "zero": false}, "axis": null}, "text": {"field": "t"}}},
  {"data": {"values": [{"x": -2.04, "y": 10.47, "t": "c"}]}, "mark": {"type": "text", "align": "center", "baseline": "middle", "fontSize": 29, "color": "#000"},
   "encoding": {"x": {"field": "x", "type": "quantitative", "scale": {"domain": [0, 12], "nice": false, "zero": false}, "axis": null}, "y": {"field": "y", "type": "quantitative", "scale": {"domain": [-2, 10], "nice": false, "zero": false}, "axis": null}, "text": {"field": "t"}}}
 ]}
]},
{"spacing": 80, "vconcat": [
{"width": 364, "height": 359, "view": {"stroke": "#8a8a8a", "strokeWidth": 1},
 "resolve": {"axis": {"x": "independent", "y": "independent"}},
 "layer": [
  {"data": {"values": [{"x": 0, "y": 0}]}, "mark": {"type": "point", "opacity": 0},
   "encoding": {"x": {"field": "x", "type": "quantitative", "scale": {"domain": [0, 12], "nice": false, "zero": false}, "axis": {"orient": "bottom", "values": [0, 2, 4, 6, 8, 10, 12], "tickSize": -8, "tickColor": "#888", "domain": false, "labelFontSize": 23, "labelPadding": 18, "title": "δ¹⁸O (‰)", "titleFontSize": 24, "titlePadding": 8}},
    "y": {"field": "y", "type": "quantitative", "scale": {"domain": [-2, 10], "nice": false, "zero": false}, "axis": {"orient": "left", "values": [-2, 0, 2, 4, 6, 8, 10], "tickSize": -8, "tickColor": "#888", "domain": false, "labelFontSize": 23, "labelPadding": 18, "title": "δ¹⁷O (‰)", "titleFontSize": 24, "titlePadding": 10}}}},
  {"data": {"values": [{"x": 0, "y": 0}]}, "mark": {"type": "point", "opacity": 0},
   "encoding": {"x": {"field": "x", "type": "quantitative", "scale": {"domain": [0, 12], "nice": false, "zero": false}, "axis": {"orient": "bottom", "values": [0.5,1,1.5,2.5,3,3.5,4.5,5,5.5,6.5,7,7.5,8.5,9,9.5,10.5,11,11.5], "tickSize": -4, "tickColor": "#888", "domain": false, "labels": false, "title": null}},
    "y": {"field": "y", "type": "quantitative", "scale": {"domain": [-2, 10], "nice": false, "zero": false}, "axis": {"orient": "left", "values": [-1.5,-1,-0.5,0.5,1,1.5,2.5,3,3.5,4.5,5,5.5,6.5,7,7.5,8.5,9,9.5], "tickSize": -4, "tickColor": "#888", "domain": false, "labels": false, "title": null}}}},
  {"data": {"values": [{"x": 0, "y": 0}]}, "mark": {"type": "point", "opacity": 0},
   "encoding": {"x": {"field": "x", "type": "quantitative", "scale": {"domain": [0, 12], "nice": false, "zero": false}, "axis": {"orient": "top", "values": [0, 2, 4, 6, 8, 10, 12], "tickSize": -8, "tickColor": "#888", "domain": false, "labels": false, "title": null}},
    "y": {"field": "y", "type": "quantitative", "scale": {"domain": [-2, 10], "nice": false, "zero": false}, "axis": {"orient": "right", "values": [-2, 0, 2, 4, 6, 8, 10], "tickSize": -8, "tickColor": "#888", "domain": false, "labels": false, "title": null}}}},
  {"data": {"values": [{"x": 0, "y": 0}]}, "mark": {"type": "point", "opacity": 0},
   "encoding": {"x": {"field": "x", "type": "quantitative", "scale": {"domain": [0, 12], "nice": false, "zero": false}, "axis": {"orient": "top", "values": [0.5,1,1.5,2.5,3,3.5,4.5,5,5.5,6.5,7,7.5,8.5,9,9.5,10.5,11,11.5], "tickSize": -4, "tickColor": "#888", "domain": false, "labels": false, "title": null}},
    "y": {"field": "y", "type": "quantitative", "scale": {"domain": [-2, 10], "nice": false, "zero": false}, "axis": {"orient": "right", "values": [-1.5,-1,-0.5,0.5,1,1.5,2.5,3,3.5,4.5,5,5.5,6.5,7,7.5,8.5,9,9.5], "tickSize": -4, "tickColor": "#888", "domain": false, "labels": false, "title": null}}}},
  {"data": {"values": [{"x": 0, "y": 0.03, "x2": 9.95, "y2": 5.21}, {"x": 10.93, "y": 5.69, "x2": 12, "y2": 6.32}]}, "mark": {"type": "rule", "color": "#000", "strokeWidth": 2},
   "encoding": {"x": {"field": "x", "type": "quantitative", "scale": {"domain": [0, 12], "nice": false, "zero": false}, "axis": null}, "y": {"field": "y", "type": "quantitative", "scale": {"domain": [-2, 10], "nice": false, "zero": false}, "axis": null}, "x2": {"field": "x2"}, "y2": {"field": "y2"}}},
  {"data": {"values": [{"x": 2.31, "y": -1.98, "x2": 2.86, "y2": -1.42}, {"x": 3.9, "y": -0.48, "x2": 9.95, "y2": 5.21}]}, "mark": {"type": "rule", "color": "#000", "strokeWidth": 1.6},
   "encoding": {"x": {"field": "x", "type": "quantitative", "scale": {"domain": [0, 12], "nice": false, "zero": false}, "axis": null}, "y": {"field": "y", "type": "quantitative", "scale": {"domain": [-2, 10], "nice": false, "zero": false}, "axis": null}, "x2": {"field": "x2"}, "y2": {"field": "y2"}}},
  {"data": {"values": [{"x": 0, "y": -0.86, "x2": 8.46, "y2": 7.27}]}, "mark": {"type": "rule", "color": "#000", "strokeWidth": 1.6, "strokeDash": [5, 3]},
   "encoding": {"x": {"field": "x", "type": "quantitative", "scale": {"domain": [0, 12], "nice": false, "zero": false}, "axis": null}, "y": {"field": "y", "type": "quantitative", "scale": {"domain": [-2, 10], "nice": false, "zero": false}, "axis": null}, "x2": {"field": "x2"}, "y2": {"field": "y2"}}},
  {"data": {"values": [{"x": 0.35, "y": 6.04, "x2": 5.88, "y2": 7.88}, {"x": 4.92, "y": -1.62, "x2": 12.42, "y2": 1.59}]}, "mark": {"type": "rect", "fill": "white", "stroke": "#555", "strokeWidth": 1.2},
   "encoding": {"x": {"field": "x", "type": "quantitative", "scale": {"domain": [0, 12], "nice": false, "zero": false}, "axis": null}, "y": {"field": "y", "type": "quantitative", "scale": {"domain": [-2, 10], "nice": false, "zero": false}, "axis": null}, "x2": {"field": "x2"}, "y2": {"field": "y2"}}},
  {"data": {"name": "gro"}, "mark": {"type": "errorbar", "color": "#b5b5b5", "thickness": 1, "ticks": true, "size": 4},
   "encoding": {"x": {"field": "d18", "type": "quantitative", "scale": {"domain": [0, 12], "nice": false, "zero": false}, "axis": null}, "xError": {"field": "e18"}, "y": {"field": "d17", "type": "quantitative", "scale": {"domain": [-2, 10], "nice": false, "zero": false}, "axis": null}}},
  {"data": {"name": "gro"}, "mark": {"type": "errorbar", "color": "#b5b5b5", "thickness": 1, "ticks": true, "size": 4},
   "encoding": {"x": {"field": "d18", "type": "quantitative", "scale": {"domain": [0, 12], "nice": false, "zero": false}, "axis": null}, "y": {"field": "d17", "type": "quantitative", "scale": {"domain": [-2, 10], "nice": false, "zero": false}, "axis": null}, "yError": {"field": "e17"}}},
  {"data": {"values": [{"i":0,"x":5.60,"y":3.48},{"i":1,"x":6.10,"y":3.48},{"i":2,"x":6.26,"y":3.04},{"i":3,"x":6.05,"y":2.48},{"i":4,"x":5.60,"y":1.92},{"i":5,"x":4.95,"y":1.36},{"i":6,"x":4.18,"y":0.92},{"i":7,"x":3.74,"y":0.75},{"i":8,"x":3.46,"y":1.03},{"i":9,"x":3.46,"y":1.42},{"i":10,"x":3.85,"y":1.92},{"i":11,"x":4.29,"y":2.48},{"i":12,"x":4.73,"y":2.92},{"i":13,"x":5.16,"y":3.26}]},
   "mark": {"type": "line", "color": "#e8852f", "strokeWidth": 4, "strokeDash": [14, 9], "interpolate": "catmull-rom"},
   "encoding": {"x": {"field": "x", "type": "quantitative", "scale": {"domain": [0, 12], "nice": false, "zero": false}, "axis": null}, "y": {"field": "y", "type": "quantitative", "scale": {"domain": [-2, 10], "nice": false, "zero": false}, "axis": null}, "order": {"field": "i"}}},
  {"data": {"values": [{"i":0,"x":8.63,"y":1.81},{"i":1,"x":7.0,"y":1.68},{"i":2,"x":5.22,"y":1.59}]},
   "mark": {"type": "line", "color": "#e8852f", "strokeWidth": 2.2, "interpolate": "monotone"},
   "encoding": {"x": {"field": "x", "type": "quantitative", "scale": {"domain": [0, 12], "nice": false, "zero": false}, "axis": null}, "y": {"field": "y", "type": "quantitative", "scale": {"domain": [-2, 10], "nice": false, "zero": false}, "axis": null}, "order": {"field": "i"}}},
  {"data": {"values": [{"x": 5.35, "y": 1.59}]}, "mark": {"type": "point", "shape": "M 1 -1 L -1 0 L 1 1", "filled": false, "stroke": "#e8852f", "strokeWidth": 2.2, "size": 90, "opacity": 1},
   "encoding": {"x": {"field": "x", "type": "quantitative", "scale": {"domain": [0, 12], "nice": false, "zero": false}, "axis": null}, "y": {"field": "y", "type": "quantitative", "scale": {"domain": [-2, 10], "nice": false, "zero": false}, "axis": null}}},
  {"data": {"values": [{"x": 4.62, "y": 5.10}]}, "mark": {"type": "point", "shape": "M -1 0 A 1 0.59 0 1 0 1 0 A 1 0.59 0 1 0 -1 0 Z", "filled": false, "stroke": "#8cb4dc", "strokeWidth": 1.3, "size": 3969, "opacity": 1},
   "encoding": {"x": {"field": "x", "type": "quantitative", "scale": {"domain": [0, 12], "nice": false, "zero": false}, "axis": null}, "y": {"field": "y", "type": "quantitative", "scale": {"domain": [-2, 10], "nice": false, "zero": false}, "axis": null}}},
  {"data": {"name": "gro"}, "transform": [{"filter": "datum.ph === 'ol'"}], "mark": {"type": "point", "shape": "circle", "filled": true, "color": "#3d8b2f", "size": 150, "opacity": 1},
   "encoding": {"x": {"field": "d18", "type": "quantitative", "scale": {"domain": [0, 12], "nice": false, "zero": false}, "axis": null}, "y": {"field": "d17", "type": "quantitative", "scale": {"domain": [-2, 10], "nice": false, "zero": false}, "axis": null}}},
  {"data": {"name": "gro"}, "transform": [{"filter": "datum.ph === 'px'"}], "mark": {"type": "point", "shape": "circle", "filled": true, "color": "#2318d8", "size": 150, "opacity": 1},
   "encoding": {"x": {"field": "d18", "type": "quantitative", "scale": {"domain": [0, 12], "nice": false, "zero": false}, "axis": null}, "y": {"field": "d17", "type": "quantitative", "scale": {"domain": [-2, 10], "nice": false, "zero": false}, "axis": null}}},
  {"data": {"name": "gro"}, "transform": [{"filter": "datum.ph === 'c27'"}], "mark": {"type": "point", "shape": "circle", "filled": true, "fill": "#2318d8", "stroke": "#d7263d", "strokeWidth": 3.5, "size": 170, "opacity": 1},
   "encoding": {"x": {"field": "d18", "type": "quantitative", "scale": {"domain": [0, 12], "nice": false, "zero": false}, "axis": null}, "y": {"field": "d17", "type": "quantitative", "scale": {"domain": [-2, 10], "nice": false, "zero": false}, "axis": null}}},
  {"data": {"name": "gro"}, "transform": [{"filter": "datum.ph === 'fepx'"}], "mark": {"type": "point", "shape": "diamond", "filled": true, "color": "#d42a2a", "size": 120, "opacity": 1},
   "encoding": {"x": {"field": "d18", "type": "quantitative", "scale": {"domain": [0, 12], "nice": false, "zero": false}, "axis": null}, "y": {"field": "d17", "type": "quantitative", "scale": {"domain": [-2, 10], "nice": false, "zero": false}, "axis": null}}},
  {"data": {"name": "gro"}, "transform": [{"filter": "datum.ph === 'c25ol'"}], "mark": {"type": "point", "shape": "diamond", "filled": true, "color": "#3d8b2f", "size": 160, "opacity": 1},
   "encoding": {"x": {"field": "d18", "type": "quantitative", "scale": {"domain": [0, 12], "nice": false, "zero": false}, "axis": null}, "y": {"field": "d17", "type": "quantitative", "scale": {"domain": [-2, 10], "nice": false, "zero": false}, "axis": null}}},
  {"data": {"values": [{"x": 4.84, "y": 5.02}]}, "mark": {"type": "point", "shape": "circle", "filled": false, "stroke": "#5c2a86", "strokeWidth": 3, "strokeDash": [7, 4], "size": 600, "opacity": 1},
   "encoding": {"x": {"field": "x", "type": "quantitative", "scale": {"domain": [0, 12], "nice": false, "zero": false}, "axis": null}, "y": {"field": "y", "type": "quantitative", "scale": {"domain": [-2, 10], "nice": false, "zero": false}, "axis": null}}},
  {"data": {"values": [{"x": 1.10, "y": 7.33}]}, "mark": {"type": "point", "shape": "circle", "filled": true, "fill": "#2318d8", "stroke": "#d7263d", "strokeWidth": 3.5, "size": 150, "opacity": 1},
   "encoding": {"x": {"field": "x", "type": "quantitative", "scale": {"domain": [0, 12], "nice": false, "zero": false}, "axis": null}, "y": {"field": "y", "type": "quantitative", "scale": {"domain": [-2, 10], "nice": false, "zero": false}, "axis": null}}},
  {"data": {"values": [{"x": 5.74, "y": 0.94}]}, "mark": {"type": "point", "shape": "circle", "filled": true, "color": "#3d8b2f", "size": 150, "opacity": 1},
   "encoding": {"x": {"field": "x", "type": "quantitative", "scale": {"domain": [0, 12], "nice": false, "zero": false}, "axis": null}, "y": {"field": "y", "type": "quantitative", "scale": {"domain": [-2, 10], "nice": false, "zero": false}, "axis": null}}},
  {"data": {"values": [{"x": 5.74, "y": 0.14}]}, "mark": {"type": "point", "shape": "circle", "filled": true, "color": "#2318d8", "size": 150, "opacity": 1},
   "encoding": {"x": {"field": "x", "type": "quantitative", "scale": {"domain": [0, 12], "nice": false, "zero": false}, "axis": null}, "y": {"field": "y", "type": "quantitative", "scale": {"domain": [-2, 10], "nice": false, "zero": false}, "axis": null}}},
  {"data": {"values": [{"x": 5.74, "y": -0.58}]}, "mark": {"type": "point", "shape": "diamond", "filled": true, "color": "#d42a2a", "size": 120, "opacity": 1},
   "encoding": {"x": {"field": "x", "type": "quantitative", "scale": {"domain": [0, 12], "nice": false, "zero": false}, "axis": null}, "y": {"field": "y", "type": "quantitative", "scale": {"domain": [-2, 10], "nice": false, "zero": false}, "axis": null}}},
  {"data": {"values": [{"x": 5.74, "y": -1.25}]}, "mark": {"type": "point", "shape": "diamond", "filled": true, "color": "#3d8b2f", "size": 160, "opacity": 1},
   "encoding": {"x": {"field": "x", "type": "quantitative", "scale": {"domain": [0, 12], "nice": false, "zero": false}, "axis": null}, "y": {"field": "y", "type": "quantitative", "scale": {"domain": [-2, 10], "nice": false, "zero": false}, "axis": null}}},
  {"data": {"values": [{"x": 0.66, "y": 8.89, "t": "Chondrules in GRO 95551"}]}, "mark": {"type": "text", "align": "left", "baseline": "middle", "fontSize": 23, "color": "#000"},
   "encoding": {"x": {"field": "x", "type": "quantitative", "scale": {"domain": [0, 12], "nice": false, "zero": false}, "axis": null}, "y": {"field": "y", "type": "quantitative", "scale": {"domain": [-2, 10], "nice": false, "zero": false}, "axis": null}, "text": {"field": "t"}}},
  {"data": {"values": [{"x": 8.9, "y": 7.66, "t": "Y-R"}, {"x": 10.38, "y": 5.38, "t": "TF"}]}, "mark": {"type": "text", "align": "center", "baseline": "middle", "fontSize": 14, "color": "#000"},
   "encoding": {"x": {"field": "x", "type": "quantitative", "scale": {"domain": [0, 12], "nice": false, "zero": false}, "axis": null}, "y": {"field": "y", "type": "quantitative", "scale": {"domain": [-2, 10], "nice": false, "zero": false}, "axis": null}, "text": {"field": "t"}}},
  {"data": {"values": [{"x": 3.35, "y": -1.0, "t": "CCAM"}, {"x": 2.75, "y": 4.99, "t": "C25"}]}, "mark": {"type": "text", "align": "center", "baseline": "middle", "fontSize": 15.5, "color": "#000"},
   "encoding": {"x": {"field": "x", "type": "quantitative", "scale": {"domain": [0, 12], "nice": false, "zero": false}, "axis": null}, "y": {"field": "y", "type": "quantitative", "scale": {"domain": [-2, 10], "nice": false, "zero": false}, "axis": null}, "text": {"field": "t"}}},
  {"data": {"values": [{"x": 4.18, "y": 5.34, "t": "R"}]}, "mark": {"type": "text", "align": "center", "baseline": "middle", "fontSize": 16, "fontWeight": "bold", "color": "#5c2a86"},
   "encoding": {"x": {"field": "x", "type": "quantitative", "scale": {"domain": [0, 12], "nice": false, "zero": false}, "axis": null}, "y": {"field": "y", "type": "quantitative", "scale": {"domain": [-2, 10], "nice": false, "zero": false}, "axis": null}, "text": {"field": "t"}}},
  {"data": {"values": [{"x": 8.24, "y": 2.31, "t": "EH3 chondrules"}]}, "mark": {"type": "text", "align": "left", "baseline": "middle", "fontSize": 17.5, "color": "#e0812f"},
   "encoding": {"x": {"field": "x", "type": "quantitative", "scale": {"domain": [0, 12], "nice": false, "zero": false}, "axis": null}, "y": {"field": "y", "type": "quantitative", "scale": {"domain": [-2, 10], "nice": false, "zero": false}, "axis": null}, "text": {"field": "t"}}},
  {"data": {"values": [{"x": 1.6, "y": 7.33, "t": "C27 Large BO"}, {"x": 1.62, "y": 6.6, "t": "(low-Ca-Pyx)"}]}, "mark": {"type": "text", "align": "left", "baseline": "middle", "fontSize": 18.5, "color": "#c92a3a"},
   "encoding": {"x": {"field": "x", "type": "quantitative", "scale": {"domain": [0, 12], "nice": false, "zero": false}, "axis": null}, "y": {"field": "y", "type": "quantitative", "scale": {"domain": [-2, 10], "nice": false, "zero": false}, "axis": null}, "text": {"field": "t"}}},
  {"data": {"values": [{"x": 6.4, "y": 0.94, "t": "Olivine"}, {"x": 6.4, "y": -1.25, "t": "C25 olivine"}]}, "mark": {"type": "text", "align": "left", "baseline": "middle", "fontSize": 18.5, "color": "#3d8b2f"},
   "encoding": {"x": {"field": "x", "type": "quantitative", "scale": {"domain": [0, 12], "nice": false, "zero": false}, "axis": null}, "y": {"field": "y", "type": "quantitative", "scale": {"domain": [-2, 10], "nice": false, "zero": false}, "axis": null}, "text": {"field": "t"}}},
  {"data": {"values": [{"x": 6.4, "y": 0.14, "t": "Low-Ca Pyx"}]}, "mark": {"type": "text", "align": "left", "baseline": "middle", "fontSize": 18.5, "color": "#2318d8"},
   "encoding": {"x": {"field": "x", "type": "quantitative", "scale": {"domain": [0, 12], "nice": false, "zero": false}, "axis": null}, "y": {"field": "y", "type": "quantitative", "scale": {"domain": [-2, 10], "nice": false, "zero": false}, "axis": null}, "text": {"field": "t"}}},
  {"data": {"values": [{"x": 6.4, "y": -0.58, "t": "C25 Fe-Pyx (Fs₃₉)"}]}, "mark": {"type": "text", "align": "left", "baseline": "middle", "fontSize": 18.5, "color": "#c92a3a"},
   "encoding": {"x": {"field": "x", "type": "quantitative", "scale": {"domain": [0, 12], "nice": false, "zero": false}, "axis": null}, "y": {"field": "y", "type": "quantitative", "scale": {"domain": [-2, 10], "nice": false, "zero": false}, "axis": null}, "text": {"field": "t"}}},
  {"data": {"values": [{"x": -1.45, "y": 9.3, "t": "b"}]}, "mark": {"type": "text", "align": "center", "baseline": "middle", "fontSize": 28, "color": "#000"},
   "encoding": {"x": {"field": "x", "type": "quantitative", "scale": {"domain": [0, 12], "nice": false, "zero": false}, "axis": null}, "y": {"field": "y", "type": "quantitative", "scale": {"domain": [-2, 10], "nice": false, "zero": false}, "axis": null}, "text": {"field": "t"}}}
 ]},
{"width": 398, "height": 309, "view": {"stroke": "#9a9a9a", "strokeWidth": 1.5},
 "layer": [
  {"data": {"values": [{"x": 2, "y": 1.0, "x2": 5.47, "y2": 4.42}, {"x": 5.97, "y": 4.92, "x2": 6.05, "y2": 5.0}]}, "mark": {"type": "rule", "color": "#555", "strokeWidth": 1, "strokeDash": [3, 3]},
   "encoding": {"x": {"field": "x", "type": "quantitative", "title": "δ¹⁸O (‰)", "scale": {"domain": [2, 8], "nice": false, "zero": false}, "axis": {"orient": "bottom", "values": [2, 3, 4, 5, 6, 7, 8], "format": "d", "tickSize": 5, "tickColor": "#9a9a9a", "domain": false, "labelFont": "Noto Sans", "labelFontSize": 18, "labelPadding": 8, "titleFont": "Noto Sans", "titleFontSize": 25, "titlePadding": 22}},
    "y": {"field": "y", "type": "quantitative", "title": "δ¹⁷O (‰)", "scale": {"domain": [0, 5], "nice": false, "zero": false}, "axis": {"orient": "left", "values": [0, 1, 2, 3, 4, 5], "format": "d", "tickSize": 5, "tickColor": "#9a9a9a", "domain": false, "labelFont": "Noto Sans", "labelFontSize": 18, "labelPadding": 11, "titleFont": "Noto Sans", "titleFontSize": 25, "titlePadding": 16}},
    "x2": {"field": "x2"}, "y2": {"field": "y2"}}},
  {"data": {"values": [{"x": 2.75, "y": 0, "x2": 2.88, "y2": 0.13}, {"x": 3.53, "y": 0.77, "x2": 7.83, "y2": 5.0}]}, "mark": {"type": "rule", "color": "#444", "strokeWidth": 1, "strokeDash": [8, 5]},
   "encoding": {"x": {"field": "x", "type": "quantitative", "title": "δ¹⁸O (‰)", "scale": {"domain": [2, 8], "nice": false, "zero": false}}, "y": {"field": "y", "type": "quantitative", "title": "δ¹⁷O (‰)", "scale": {"domain": [0, 5], "nice": false, "zero": false}}, "x2": {"field": "x2"}, "y2": {"field": "y2"}}},
  {"data": {"values": [{"x": 2, "y": 1.05, "x2": 8, "y2": 4.15}]}, "mark": {"type": "rule", "color": "#333", "strokeWidth": 1},
   "encoding": {"x": {"field": "x", "type": "quantitative", "title": "δ¹⁸O (‰)", "scale": {"domain": [2, 8], "nice": false, "zero": false}}, "y": {"field": "y", "type": "quantitative", "title": "δ¹⁷O (‰)", "scale": {"domain": [0, 5], "nice": false, "zero": false}}, "x2": {"field": "x2"}, "y2": {"field": "y2"}}},
  {"data": {"values": [{"x": 4.51, "y": 0, "x2": 5.1, "y2": 0.55}, {"x": 5.57, "y": 0.99, "x2": 8, "y2": 3.28}]}, "mark": {"type": "rule", "color": "#666", "strokeWidth": 1, "strokeDash": [2, 2]},
   "encoding": {"x": {"field": "x", "type": "quantitative", "title": "δ¹⁸O (‰)", "scale": {"domain": [2, 8], "nice": false, "zero": false}}, "y": {"field": "y", "type": "quantitative", "title": "δ¹⁷O (‰)", "scale": {"domain": [0, 5], "nice": false, "zero": false}}, "x2": {"field": "x2"}, "y2": {"field": "y2"}}},
  {"data": {"values": [{"x": 7.01, "y": 0.66, "x2": 7.73, "y2": 2.20}]}, "mark": {"type": "rect", "fill": "white", "stroke": "#666", "strokeWidth": 1},
   "encoding": {"x": {"field": "x", "type": "quantitative", "title": "δ¹⁸O (‰)", "scale": {"domain": [2, 8], "nice": false, "zero": false}}, "y": {"field": "y", "type": "quantitative", "title": "δ¹⁷O (‰)", "scale": {"domain": [0, 5], "nice": false, "zero": false}}, "x2": {"field": "x2"}, "y2": {"field": "y2"}}},
  {"data": {"name": "ib"}, "mark": {"type": "errorbar", "color": "#444", "thickness": 1, "ticks": true, "size": 6},
   "encoding": {"x": {"field": "d18", "type": "quantitative", "title": "δ¹⁸O (‰)", "scale": {"domain": [2, 8], "nice": false, "zero": false}}, "xError": {"field": "e18"}, "y": {"field": "d17", "type": "quantitative", "title": "δ¹⁷O (‰)", "scale": {"domain": [0, 5], "nice": false, "zero": false}}}},
  {"data": {"name": "ib"}, "mark": {"type": "errorbar", "color": "#444", "thickness": 1, "ticks": true, "size": 6},
   "encoding": {"x": {"field": "d18", "type": "quantitative", "title": "δ¹⁸O (‰)", "scale": {"domain": [2, 8], "nice": false, "zero": false}}, "y": {"field": "d17", "type": "quantitative", "title": "δ¹⁷O (‰)", "scale": {"domain": [0, 5], "nice": false, "zero": false}}, "yError": {"field": "e17"}}},
  {"data": {"name": "ib"}, "transform": [{"filter": "datum.g === 'IA'"}], "mark": {"type": "point", "shape": "circle", "filled": true, "fill": "#e31c1c", "stroke": "#333", "strokeWidth": 1, "size": 190, "opacity": 1},
   "encoding": {"x": {"field": "d18", "type": "quantitative", "title": "δ¹⁸O (‰)", "scale": {"domain": [2, 8], "nice": false, "zero": false}}, "y": {"field": "d17", "type": "quantitative", "title": "δ¹⁷O (‰)", "scale": {"domain": [0, 5], "nice": false, "zero": false}}}},
  {"data": {"name": "ib"}, "transform": [{"filter": "datum.g === 'IB'"}], "mark": {"type": "point", "shape": "square", "filled": true, "fill": "#1f1fff", "stroke": "#333", "strokeWidth": 1, "size": 150, "opacity": 1},
   "encoding": {"x": {"field": "d18", "type": "quantitative", "title": "δ¹⁸O (‰)", "scale": {"domain": [2, 8], "nice": false, "zero": false}}, "y": {"field": "d17", "type": "quantitative", "title": "δ¹⁷O (‰)", "scale": {"domain": [0, 5], "nice": false, "zero": false}}}},
  {"data": {"name": "ib"}, "transform": [{"filter": "datum.g === 'IAB'"}], "mark": {"type": "point", "shape": "triangle-up", "filled": true, "fill": "#ffff2e", "stroke": "#555", "strokeWidth": 1, "size": 220, "opacity": 1},
   "encoding": {"x": {"field": "d18", "type": "quantitative", "title": "δ¹⁸O (‰)", "scale": {"domain": [2, 8], "nice": false, "zero": false}}, "y": {"field": "d17", "type": "quantitative", "title": "δ¹⁷O (‰)", "scale": {"domain": [0, 5], "nice": false, "zero": false}}}},
  {"data": {"values": [{"x": 7.22, "y": 1.93}]}, "mark": {"type": "point", "shape": "circle", "filled": true, "fill": "#e31c1c", "stroke": "#333", "strokeWidth": 1, "size": 60, "opacity": 1},
   "encoding": {"x": {"field": "x", "type": "quantitative", "title": "δ¹⁸O (‰)", "scale": {"domain": [2, 8], "nice": false, "zero": false}}, "y": {"field": "y", "type": "quantitative", "title": "δ¹⁷O (‰)", "scale": {"domain": [0, 5], "nice": false, "zero": false}}}},
  {"data": {"values": [{"x": 7.22, "y": 1.40}]}, "mark": {"type": "point", "shape": "square", "filled": true, "fill": "#1f1fff", "stroke": "#333", "strokeWidth": 1, "size": 50, "opacity": 1},
   "encoding": {"x": {"field": "x", "type": "quantitative", "title": "δ¹⁸O (‰)", "scale": {"domain": [2, 8], "nice": false, "zero": false}}, "y": {"field": "y", "type": "quantitative", "title": "δ¹⁷O (‰)", "scale": {"domain": [0, 5], "nice": false, "zero": false}}}},
  {"data": {"values": [{"x": 7.22, "y": 0.89}]}, "mark": {"type": "point", "shape": "triangle-up", "filled": true, "fill": "#ffff2e", "stroke": "#555", "strokeWidth": 1, "size": 60, "opacity": 1},
   "encoding": {"x": {"field": "x", "type": "quantitative", "title": "δ¹⁸O (‰)", "scale": {"domain": [2, 8], "nice": false, "zero": false}}, "y": {"field": "y", "type": "quantitative", "title": "δ¹⁷O (‰)", "scale": {"domain": [0, 5], "nice": false, "zero": false}}}},
  {"data": {"values": [{"x": 7.28, "y": 1.93, "t": "IA"}, {"x": 7.28, "y": 1.40, "t": "IB"}, {"x": 7.28, "y": 0.89, "t": "IAB"}]}, "mark": {"type": "text", "align": "left", "baseline": "middle", "fontSize": 11, "font": "Noto Sans", "color": "#333"},
   "encoding": {"x": {"field": "x", "type": "quantitative", "title": "δ¹⁸O (‰)", "scale": {"domain": [2, 8], "nice": false, "zero": false}}, "y": {"field": "y", "type": "quantitative", "title": "δ¹⁷O (‰)", "scale": {"domain": [0, 5], "nice": false, "zero": false}}, "text": {"field": "t"}}},
  {"data": {"values": [{"x": 5.66, "y": 4.64, "t": "YR"}, {"x": 3.28, "y": 0.49, "t": "PCM"}, {"x": 5.34, "y": 0.73, "t": "CCAM"}]}, "mark": {"type": "text", "align": "center", "baseline": "middle", "fontSize": 15, "font": "Noto Sans", "color": "#222"},
   "encoding": {"x": {"field": "x", "type": "quantitative", "title": "δ¹⁸O (‰)", "scale": {"domain": [2, 8], "nice": false, "zero": false}}, "y": {"field": "y", "type": "quantitative", "title": "δ¹⁷O (‰)", "scale": {"domain": [0, 5], "nice": false, "zero": false}}, "text": {"field": "t"}}},
  {"data": {"values": [{"x": 1.22, "y": 5.1, "t": "d"}]}, "mark": {"type": "text", "align": "center", "baseline": "middle", "fontSize": 30, "font": "Noto Sans", "color": "#000"},
   "encoding": {"x": {"field": "x", "type": "quantitative", "title": "δ¹⁸O (‰)", "scale": {"domain": [2, 8], "nice": false, "zero": false}}, "y": {"field": "y", "type": "quantitative", "title": "δ¹⁷O (‰)", "scale": {"domain": [0, 5], "nice": false, "zero": false}}, "text": {"field": "t"}}}
 ]}
]}
]
}
